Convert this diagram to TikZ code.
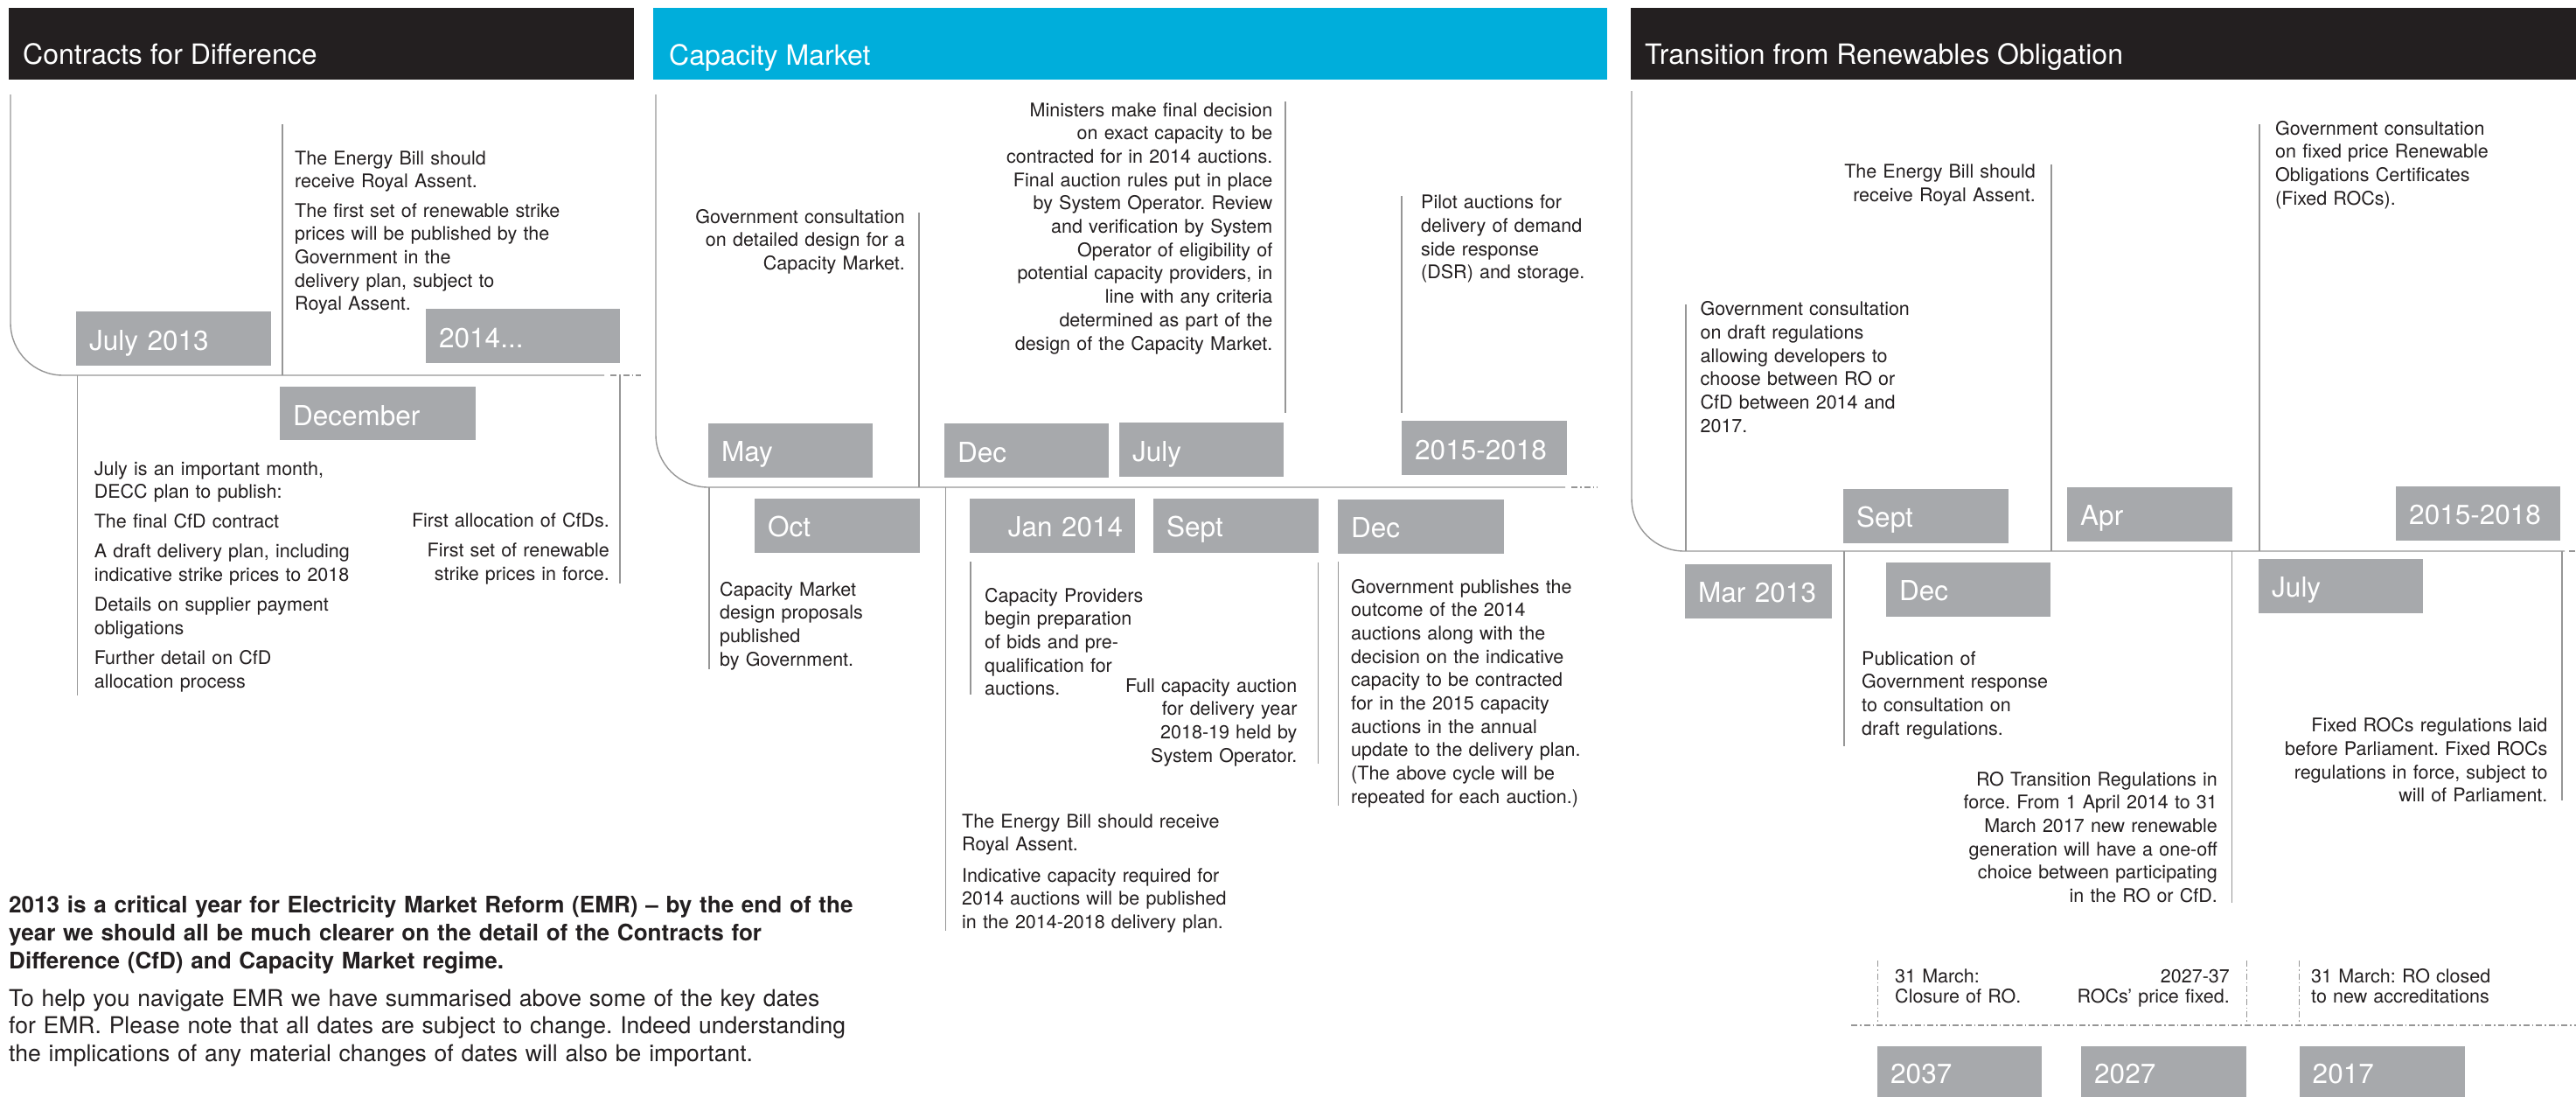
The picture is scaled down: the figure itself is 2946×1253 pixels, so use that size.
\documentclass[tikz,border=0pt]{standalone}
\usepackage{fontspec}
\setmainfont{TeX Gyre Heros}
\frenchspacing
\definecolor{boxgray}{RGB}{167,169,172}
\definecolor{linegray}{RGB}{150,150,150}
\definecolor{ink}{RGB}{35,31,32}
\definecolor{kcyan}{RGB}{0,174,219}
\definecolor{hdrblack}{RGB}{35,31,32}
\tikzset{
  tl/.style={draw=linegray, line width=1.4pt},
  dd/.style={draw=linegray, line width=1.2pt, dash pattern=on 7pt off 3pt on 1.5pt off 3pt},
  hdrbox/.style={anchor=north west, inner sep=0pt, outer sep=0pt},
  hdrtxt/.style={anchor=base west, inner sep=0pt, text=white, font=\fontsize{32}{38}\selectfont},
  datebox/.style={anchor=north west, fill=boxgray, text=white, inner xsep=15pt, inner ysep=0pt,
    text height=44pt, text depth=18pt, align=left, font=\fontsize{31.5}{36}\selectfont},
  bodyL/.style={anchor=base west, inner sep=0pt, align=left, text width=420pt, text=ink,
    font=\fontsize{21.5}{26.7}\selectfont},
  bodyR/.style={anchor=base east, inner sep=0pt, align=right, text width=420pt, text=ink,
    font=\fontsize{21.5}{26.7}\selectfont},
  intro/.style={anchor=base west, inner sep=0pt, align=left, text width=1000pt, text=ink},
}
\begin{document}
\begin{tikzpicture}[x=1pt, y=-1pt]
\useasboundingbox (0,0) rectangle (2946,1253);

% ---------------- headers
\node[hdrbox, fill=hdrblack, minimum width=715pt, minimum height=82pt] (hcfd) at (10,9) {};
\node[hdrtxt] (hcfdt) at (26,73) {Contracts for Difference};
\node[hdrbox, fill=kcyan, minimum width=1091pt, minimum height=82pt] (hcm) at (747,9) {};
\node[hdrtxt] (hcmt) at (765,74) {Capacity Market};
\node[hdrbox, fill=hdrblack, minimum width=1081pt, minimum height=82pt] (hro) at (1865,9) {};
\node[hdrtxt] (hrot) at (1881,73) {Transition from Renewables Obligation};

% ================= Contracts for Difference
\draw[tl, rounded corners=60pt] (12,108) -- (12,429) -- (691,429);
\draw[dd] (698,429) -- (733,429);
\draw[tl] (323,142) -- (323,429);
\draw[tl] (88.5,429) -- (88.5,795);
\draw[tl] (709,429) -- (709,667);

\node[bodyL] (cfdA) at (337,188) {The Energy Bill should\\receive Royal Assent.\\[6.6pt]The first set of renewable strike\\prices will be published by the\\Government in the\\delivery plan, subject to\\Royal Assent.};
\node[datebox, text width=193pt] (jul13) at (87,356) {July 2013};
\node[datebox, text width=192pt] (y2014) at (487,353) {2014...};
\node[datebox, text width=194pt, text depth=17pt] (dec13) at (320,442) {December};
\node[bodyL] (cfdB) at (107.6,543) {July is an important month,\\DECC plan to publish:\\[7pt]The final CfD contract\\[7.5pt]A draft delivery plan, including\\indicative strike prices to 2018\\[7.5pt]Details on supplier payment\\obligations\\[7.5pt]Further detail on CfD\\allocation process};
\node[bodyR] (cfdC) at (697,602) {First allocation of CfDs.\\[8pt]First set of renewable\\strike prices in force.};

% ================= Capacity Market
\draw[tl, rounded corners=60pt] (750,108) -- (750,557) -- (1790,557);
\draw[dd] (1797,557) -- (1827,557);
\draw[tl] (1051,243) -- (1051,557);
\draw[tl] (1470,116) -- (1470,472);
\draw[tl] (1603,224) -- (1603,472);
\draw[tl] (811,557) -- (811,764.5);
\draw[tl] (1081.6,557) -- (1081.6,1063.5);
\draw[tl] (1110,642) -- (1110,794);
\draw[tl] (1507.5,643) -- (1507.5,873);
\draw[tl] (1530.6,642) -- (1530.6,921);

\node[bodyR] (cmA) at (1035,255) {Government consultation\\on detailed design for a\\Capacity Market.};
\node[bodyR] (cmB) at (1455.5,133) {Ministers make final decision\\on exact capacity to be\\contracted for in 2014 auctions.\\Final auction rules put in place\\by System Operator. Review\\and verification by System\\Operator of eligibility of\\potential capacity providers, in\\line with any criteria\\determined as part of the\\design of the Capacity Market.};
\node[bodyL] (cmC) at (1625,238.6) {Pilot auctions for\\delivery of demand\\side response\\(DSR) and storage.};

\node[datebox, text width=158pt, text height=43pt, text depth=19pt] (may) at (810,484) {May};
\node[datebox, text width=158pt] (cmdec) at (1080,484) {Dec};
\node[datebox, text width=158pt] (cmjul) at (1280,483) {July};
\node[datebox, text width=159pt] (cmyrs) at (1603,481) {2015-2018};

\node[datebox, text width=159pt, text height=43pt, text depth=19pt] (oct) at (863,570) {Oct};
\node[datebox, text width=161pt, align=right, inner xsep=14pt, text height=43pt, text depth=19pt] (jan14) at (1109,570) {Jan 2014};
\node[datebox, text width=159pt, text height=43pt, text depth=19pt] (sept) at (1319,570) {Sept};
\node[datebox, text width=160pt, text height=43pt, text depth=19pt] (cmdecb) at (1530,571) {Dec};

\node[bodyL] (cmD) at (823,681) {Capacity Market\\design proposals\\published\\by Government.};
\node[bodyL] (cmE) at (1126,688) {Capacity Providers\\begin preparation\\of bids and pre-\\qualification for\\auctions.};
\node[bodyR] (cmF) at (1483.6,791) {Full capacity auction\\for delivery year\\2018-19 held by\\System Operator.};
\node[bodyL] (cmG) at (1545,678) {Government publishes the\\outcome of the 2014\\auctions along with the\\decision on the indicative\\capacity to be contracted\\for in the 2015 capacity\\auctions in the annual\\update to the delivery plan.\\(The above cycle will be\\repeated for each auction.)};
\node[bodyL] (cmH) at (1100,946) {The Energy Bill should receive\\Royal Assent.\\[8.6pt]Indicative capacity required for\\2014 auctions will be published\\in the 2014-2018 delivery plan.};

% ================= Transition from Renewables Obligation
\draw[tl, rounded corners=60pt] (1866,104) -- (1866,630) -- (2933,630);
\draw[dd] (2938,630) -- (2946,630);
\draw[tl] (1928,348) -- (1928,630);
\draw[tl] (2346,187.5) -- (2346,630);
\draw[tl] (2584,142) -- (2584,630);
\draw[tl] (2109,630) -- (2109,853);
\draw[tl] (2552.5,630) -- (2552.5,1032);
\draw[tl] (2930,630) -- (2930,915);

\node[bodyL] (roA) at (1944.4,360.7) {Government consultation\\on draft regulations\\allowing developers to\\choose between RO or\\CfD between 2014 and\\2017.};
\node[bodyR] (roB) at (2328,203.6) {The Energy Bill should\\receive Royal Assent.};
\node[bodyL] (roC) at (2602,154) {Government consultation\\on fixed price Renewable\\Obligations Certificates\\(Fixed ROCs).};

\node[datebox, text width=159pt, text height=43pt, text depth=19pt] (rosept) at (2108,559) {Sept};
\node[datebox, text width=159pt, text height=43pt, text depth=19pt] (roapr) at (2364,557) {Apr};
\node[datebox, text width=158pt, text height=43pt, text depth=19pt] (royrs) at (2740,556) {2015-2018};
\node[datebox, text width=138pt, text height=43pt, text depth=19pt] (mar13) at (1927,645) {Mar 2013};
\node[datebox, text width=158pt, text height=43pt, text depth=19pt] (rodec) at (2157,643) {Dec};
\node[datebox, text width=158pt, text height=43pt, text depth=19pt] (rojul) at (2583,639) {July};

\node[bodyL] (roD) at (2129,760) {Publication of\\Government response\\to consultation on\\draft regulations.};
\node[bodyR] (roE) at (2536,898) {RO Transition Regulations in\\force. From 1 April 2014 to 31\\March 2017 new renewable\\generation will have a one-off\\choice between participating\\in the RO or CfD.};
\node[bodyR] (roF) at (2913.6,836.7) {Fixed ROCs regulations laid\\before Parliament. Fixed ROCs\\regulations in force, subject to\\will of Parliament.};

% future dates
\draw[dd] (2117,1172) -- (2946,1172);
\draw[dd] (2147.5,1098) -- (2147.5,1172);
\draw[dd] (2569.5,1098) -- (2569.5,1172);
\draw[dd] (2629.5,1098) -- (2629.5,1172);
\node[bodyL, font=\fontsize{21.5}{23.5}\selectfont] (roG) at (2167,1123) {31 March:\\Closure of RO.};
\node[bodyR, font=\fontsize{21.5}{23.5}\selectfont] (roH) at (2550,1123) {2027-37\\ROCs’ price fixed.};
\node[bodyL, font=\fontsize{21.5}{23.5}\selectfont] (roI) at (2643,1123) {31 March: RO closed\\to new accreditations};
\node[datebox, text width=158pt, text height=42pt, text depth=20pt] (y2037) at (2147,1196) {2037};
\node[datebox, text width=159pt, text height=42pt, text depth=20pt] (y2027) at (2380,1196) {2027};
\node[datebox, text width=159.5pt, text height=42pt, text depth=20pt] (y2017) at (2629.5,1196) {2017};

% ================= intro text
\node[intro, font=\bfseries\fontsize{26.1}{32}\selectfont] (introA) at (10,1043) {2013 is a critical year for Electricity Market Reform (EMR) – by the end of the\\year we should all be much clearer on the detail of the Contracts for\\Difference (CfD) and Capacity Market regime.};
\node[intro, font=\fontsize{26.5}{31.7}\selectfont] (introB) at (10,1150) {To help you navigate EMR we have summarised above some of the key dates\\for EMR. Please note that all dates are subject to change. Indeed understanding\\the implications of any material changes of dates will also be important.};
\end{tikzpicture}
\end{document}
